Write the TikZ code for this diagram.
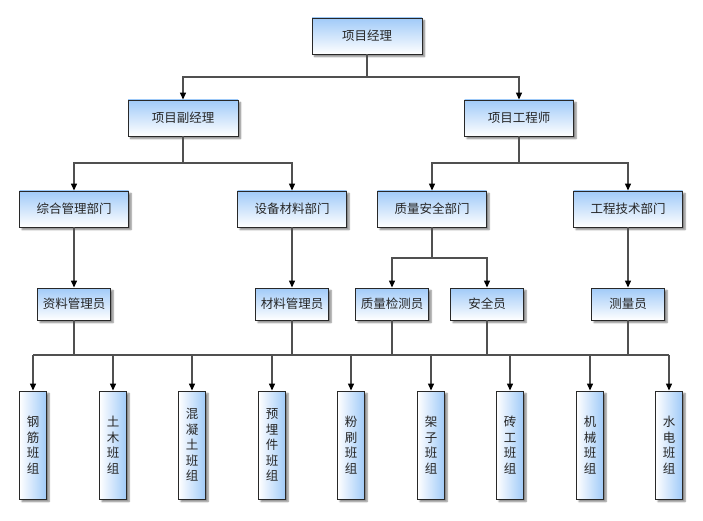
\documentclass[tikz,border=0pt]{standalone}
\usepackage{fontspec}
\newfontfamily\cjk{Noto Sans CJK SC}
\usetikzlibrary{arrows.meta,shadows.blur,calc}
\definecolor{boxblue}{RGB}{160,202,248}
\definecolor{linegray}{RGB}{80,80,80}
\definecolor{bordergray}{RGB}{40,40,40}
\begin{document}
\begin{tikzpicture}[x=1pt,y=-1pt,
  base/.style={draw=bordergray,line width=0.9pt,inner sep=0pt,
    font=\cjk\fontsize{12.5}{15.5}\selectfont,text=black!85,
    blur shadow={shadow xshift=2.5pt,shadow yshift=-2.5pt,shadow blur steps=5,shadow opacity=50}},
  hbox/.style={base,top color=boxblue,bottom color=white,minimum height=36pt},
  sbox/.style={base,top color=boxblue,bottom color=white,minimum width=73pt,minimum height=32pt},
  vbox/.style={base,left color=white,right color=boxblue,minimum width=27pt,minimum height=108pt,align=center},
  conn/.style={draw=linegray,line width=1.3pt},
  arr/.style={conn,-{Triangle[length=7pt,width=6pt,color=black]}}
]
\useasboundingbox (0,0) rectangle (703,521);

% level 0-1
\node[hbox,minimum width=110pt] (pm) at (367,36) {项目经理};
\node[hbox,minimum width=110pt] (dpm) at (183,118) {项目副经理};
\node[hbox,minimum width=109pt] (eng) at (519,118) {项目工程师};

% departments
\node[hbox,minimum width=109pt] (d1) at (74,209) {综合管理部门};
\node[hbox,minimum width=109pt] (d2) at (292,209) {设备材料部门};
\node[hbox,minimum width=109pt] (d3) at (432,209) {质量安全部门};
\node[hbox,minimum width=109pt] (d4) at (628,209) {工程技术部门};

% staff
\node[sbox] (r1) at (74,304) {资料管理员};
\node[sbox] (r2) at (292,304) {材料管理员};
\node[sbox] (r3) at (392,304) {质量检测员};
\node[sbox] (r4) at (487,304) {安全员};
\node[sbox] (r5) at (628,304) {测量员};

% teams
\node[vbox] (t1) at (33,445) {钢\\筋\\班\\组};
\node[vbox] (t2) at (113,445) {土\\木\\班\\组};
\node[vbox] (t3) at (192,445) {混\\凝\\土\\班\\组};
\node[vbox] (t4) at (272,445) {预\\埋\\件\\班\\组};
\node[vbox] (t5) at (351,445) {粉\\刷\\班\\组};
\node[vbox] (t6) at (431,445) {架\\子\\班\\组};
\node[vbox] (t7) at (510,445) {砖\\工\\班\\组};
\node[vbox] (t8) at (590,445) {机\\械\\班\\组};
\node[vbox] (t9) at (669,445) {水\\电\\班\\组};

% junctions
\coordinate (j0) at (367,77);
\coordinate (j1) at (183,163);
\coordinate (j2) at (519,163);
\coordinate (j3) at (432,258);
\coordinate (bus) at (0,355);

\draw[conn] (pm.south) -- (j0);
\draw[arr] (j0) -| (dpm.north);
\draw[arr] (j0) -| (eng.north);

\draw[conn] (dpm.south) -- (j1);
\draw[arr] (j1) -| (d1.north);
\draw[arr] (j1) -| (d2.north);

\draw[conn] (eng.south) -- (j2);
\draw[arr] (j2) -| (d3.north);
\draw[arr] (j2) -| (d4.north);

\draw[arr] (d1.south) -- (r1.north);
\draw[arr] (d2.south) -- (r2.north);
\draw[conn] (d3.south) -- (j3);
\draw[arr] (j3) -| (r3.north);
\draw[arr] (j3) -| (r4.north);
\draw[arr] (d4.south) -- (r5.north);

\foreach \r in {r1,r2,r3,r4,r5}
  \draw[conn] (\r.south) -- (\r.south |- bus);
\draw[conn] (t1.north |- bus) -- (t9.north |- bus);
\foreach \t in {t1,t2,t3,t4,t5,t6,t7,t8,t9}
  \draw[arr] (\t.north |- bus) -- (\t.north);
\end{tikzpicture}
\end{document}
